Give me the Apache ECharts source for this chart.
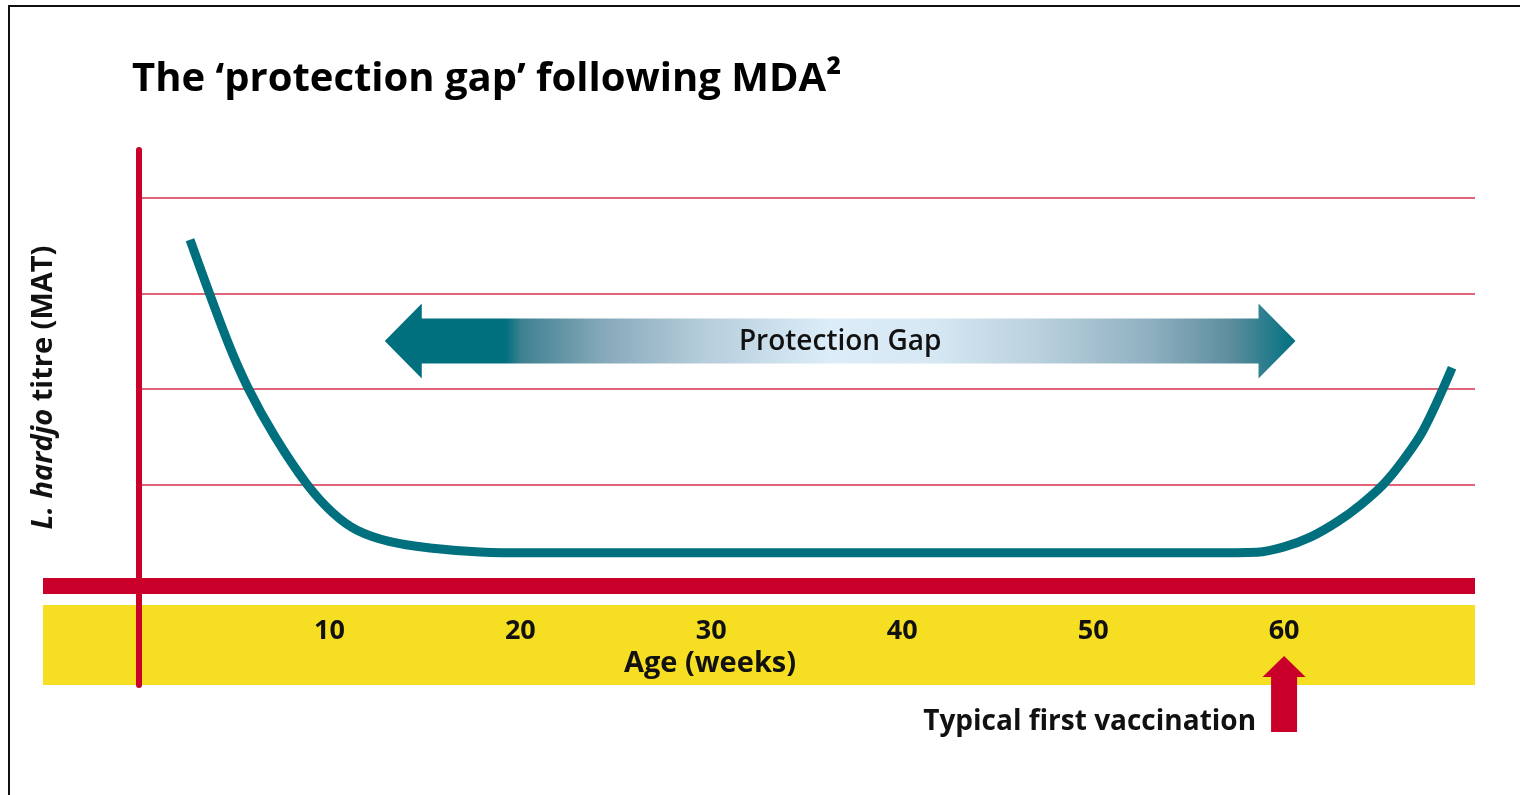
<!DOCTYPE html>
<html>
<head>
<meta charset="utf-8">
<title>The protection gap following MDA</title>
<script src="https://cdn.jsdelivr.net/npm/echarts@6/dist/echarts.min.js"></script>
<style>
  html, body { margin: 0; padding: 0; background: #fff; }
  #main { width: 1520px; height: 795px; }
</style>
</head>
<body>
<div id="main"></div>
<script>
// curve: age in weeks, titre in grid units
const weeks = [2.7, 4.64, 5.74, 7.15, 8.83, 10.19, 11.45, 13.18, 15.27, 17.89, 20.5, 30, 40, 50, 56, 58.6, 60.0, 61.4, 62.8, 64.0, 65.2, 66.25, 67.3, 68.8];
const titre = [3.56, 2.51, 2.01, 1.5, 1.0, 0.7, 0.52, 0.4, 0.335, 0.293, 0.283, 0.283, 0.283, 0.283, 0.283, 0.29, 0.345, 0.45, 0.61, 0.785, 1.0, 1.256, 1.57, 2.22];
const ageTicks = [10, 20, 30, 40, 50, 60];
const titreLines = [1, 2, 3, 4];
const gapFrom = 12.9;
const gapTo = 60.6;
const gapLevel = 2.5;
const firstVaccination = 60;

const TEAL = '#00707f';
const RED = '#c8002a';
const YELLOW = '#f6de22';
const FONT = 'Open Sans';

const chart = echarts.init(document.getElementById('main'));

chart.setOption({
  animation: false,
  title: {
    text: 'The ‘protection gap’ following MDA²',
    left: 127,
    top: 55,
    textStyle: { fontFamily: FONT, fontSize: 40, fontWeight: 'bold', color: '#000' }
  },
  grid: { left: 43, right: 45, top: 150, bottom: 110, outerBoundsMode: 'none', containLabel: false },
  xAxis: {
    type: 'value',
    min: -5,
    max: 70,
    offset: -54,
    z: 10,
    axisLine: { show: false, onZero: false },
    axisTick: { show: false },
    splitLine: { show: false },
    axisLabel: {
      customValues: ageTicks,
      margin: 0,
      verticalAlign: 'middle',
      fontFamily: FONT,
      fontSize: 27,
      fontWeight: 'bold',
      color: '#111'
    },
    name: 'Age (weeks)',
    nameLocation: 'middle',
    nameGap: 15,
    nameTextStyle: {
      fontFamily: FONT, fontSize: 29, fontWeight: 'bold', color: '#111',
      padding: [0, 98, 0, 0]
    }
  },
  yAxis: {
    type: 'value',
    min: -1.1,
    max: 4.5,
    z: 10,
    axisLine: { show: true, onZero: true, lineStyle: { color: RED, width: 6 } },
    axisTick: { show: false },
    axisLabel: { show: false },
    splitLine: { show: false },
    name: '{i|L. hardjo} titre (MAT)',
    nameLocation: 'middle',
    nameGap: -15,
    nameTextStyle: {
      fontFamily: FONT, fontSize: 29, fontWeight: 'bold', color: '#111',
      padding: [0, 0, 0, 60],
      rich: { i: { fontFamily: FONT, fontSize: 29, fontWeight: 'bold', fontStyle: 'italic', color: '#111' } }
    }
  },
  series: [
    {
      type: 'line',
      silent: true,
      data: [],
      markArea: {
        silent: true,
        data: [
          [{ yAxis: -0.262, itemStyle: { color: YELLOW } }, { yAxis: -1.1 }],
          [{ yAxis: 0.02, itemStyle: { color: RED } }, { yAxis: -0.147 }]
        ]
      },
      markLine: {
        silent: true,
        symbol: 'none',
        label: { show: false },
        lineStyle: { color: '#d8304c', width: 1.5, type: 'solid' },
        data: titreLines.map(v => [{ coord: [0, v] }, { coord: [70, v] }])
      }
    },
    {
      type: 'line',
      name: 'L. hardjo titre',
      data: weeks.map((w, i) => [w, titre[i]]),
      smooth: 0.35,
      symbol: 'none',
      z: 5,
      lineStyle: { color: TEAL, width: 9, cap: 'butt' }
    }
  ]
});

// annotations placed through the axes' own scales
function px(x, y) { return chart.convertToPixel({ gridIndex: 0 }, [x, y]); }

const l = px(gapFrom, gapLevel);
const r = px(gapTo, gapLevel);
const head = 37, shaft = 22.5, half = 37.5;
const yc = l[1];

const v = px(firstVaccination, 0);
const vx = v[0];

chart.setOption({
  graphic: [
    {
      type: 'rect',
      z: 100,
      silent: true,
      shape: { x: 9, y: 6, width: 1600, height: 900 },
      style: { fill: 'none', stroke: '#111', lineWidth: 2 }
    },
    {
      type: 'polygon',
      z: 50,
      shape: {
        points: [
          [l[0], yc], [l[0] + head, yc - half], [l[0] + head, yc - shaft],
          [r[0] - head, yc - shaft], [r[0] - head, yc - half], [r[0], yc],
          [r[0] - head, yc + half], [r[0] - head, yc + shaft],
          [l[0] + head, yc + shaft], [l[0] + head, yc + half]
        ]
      },
      style: {
        fill: new echarts.graphic.LinearGradient(0, 0, 1, 0, [
          { offset: 0, color: TEAL },
          { offset: 0.133, color: TEAL },
          { offset: 0.15, color: '#3f8191' },
          { offset: 0.24, color: '#86a9ba' },
          { offset: 0.35, color: '#b6cddb' },
          { offset: 0.49, color: '#dcedf9' },
          { offset: 0.6, color: '#d6e8f4' },
          { offset: 0.72, color: '#b9d0dd' },
          { offset: 0.84, color: '#8fb0c0' },
          { offset: 0.93, color: '#5c8d9e' },
          { offset: 1, color: TEAL }
        ])
      }
    },
    {
      type: 'text',
      z: 51,
      x: (l[0] + r[0]) / 2,
      y: yc + 1,
      style: {
        text: 'Protection Gap',
        fontFamily: FONT, fontSize: 28, fontWeight: 600, fill: '#111',
        align: 'center', verticalAlign: 'middle'
      }
    },
    {
      type: 'polygon',
      z: 50,
      shape: {
        points: [
          [vx, 656], [vx + 21.5, 677], [vx + 13, 677], [vx + 13, 732],
          [vx - 13, 732], [vx - 13, 677], [vx - 21.5, 677]
        ]
      },
      style: { fill: RED }
    },
    {
      type: 'text',
      z: 51,
      x: vx - 28,
      y: 722,
      style: {
        text: 'Typical first vaccination',
        fontFamily: FONT, fontSize: 28, fontWeight: 'bold', fill: '#111',
        align: 'right', verticalAlign: 'middle'
      }
    }
  ]
});
</script>
</body>
</html>
